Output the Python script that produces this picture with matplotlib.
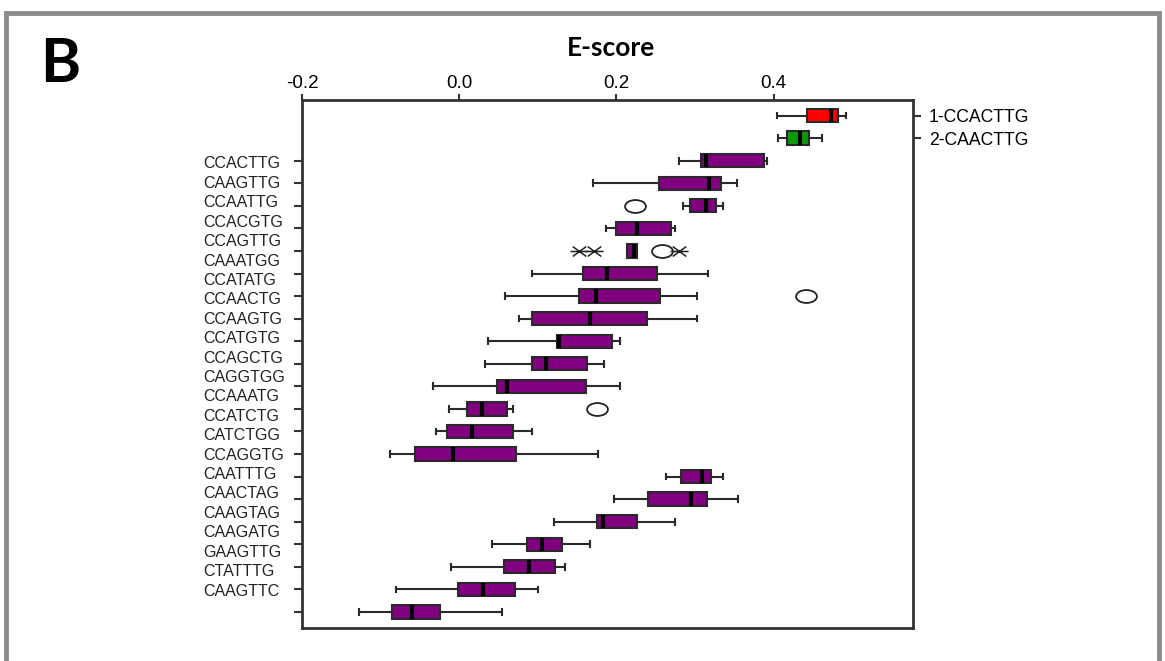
import matplotlib.pyplot as plt
import numpy as np
from matplotlib.path import Path
from matplotlib.transforms import Affine2D
from matplotlib.patches import Rectangle

# right-hand labels (first two boxes) and left-hand labels
top_names = ['1-CCACTTG', '2-CAACTTG']
left_names = ['CCACTTG', 'CAAGTTG', 'CCAATTG', 'CCACGTG', 'CCAGTTG', 'CAAATGG',
              'CCATATG', 'CCAACTG', 'CCAAGTG', 'CCATGTG', 'CCAGCTG', 'CAGGTGG',
              'CCAAATG', 'CCATCTG', 'CATCTGG', 'CCAGGTG', 'CAATTTG', 'CAACTAG',
              'CAAGTAG', 'CAAGATG', 'GAAGTTG', 'CTATTTG', 'CAAGTTC']

# box statistics, top to bottom
whislo = [0.404, 0.405, 0.280, 0.170, 0.285, 0.187, 0.213, 0.092, 0.058, 0.076,
          0.037, 0.033, -0.033, -0.013, -0.030, -0.088, 0.263, 0.197, 0.120,
          0.042, -0.010, -0.081, -0.127]
q1 = [0.442, 0.417, 0.307, 0.254, 0.293, 0.199, 0.213, 0.158, 0.153, 0.092,
      0.124, 0.093, 0.048, 0.010, -0.016, -0.056, 0.282, 0.240, 0.175,
      0.086, 0.057, -0.002, -0.086]
med = [0.473, 0.433, 0.314, 0.318, 0.314, 0.226, 0.222, 0.188, 0.174, 0.166,
       0.127, 0.110, 0.061, 0.029, 0.016, -0.008, 0.309, 0.295, 0.183,
       0.105, 0.089, 0.030, -0.060]
q3 = [0.482, 0.445, 0.388, 0.333, 0.327, 0.269, 0.226, 0.251, 0.255, 0.239,
      0.195, 0.162, 0.161, 0.061, 0.069, 0.072, 0.320, 0.315, 0.226,
      0.131, 0.122, 0.071, -0.024]
whishi = [0.492, 0.461, 0.391, 0.354, 0.335, 0.274, 0.226, 0.316, 0.302, 0.303,
          0.205, 0.184, 0.204, 0.069, 0.093, 0.177, 0.335, 0.355, 0.274,
          0.167, 0.135, 0.100, 0.054]
circle_out = {4: [0.224], 6: [0.258], 8: [0.441], 13: [0.175]}
star_row = 6
star_out = [0.153, 0.172, 0.280]

colors = ['#ff0000', '#0a9a0a'] + ['#800080'] * 21
positions = np.arange(1, len(med) + 1)

stats = []
for i in range(len(med)):
    stats.append(dict(whislo=whislo[i], q1=q1[i], med=med[i], q3=q3[i],
                      whishi=whishi[i], fliers=circle_out.get(i, [])))

ellipse = Path.unit_circle().transformed(Affine2D().scale(1.0, 0.62))
# flattened asterisk: horizontal bar plus two shallow diagonals
star = Path([(-1, 0), (1, 0), (-0.75, -0.55), (0.75, 0.55),
             (-0.75, 0.55), (0.75, -0.55)],
            [Path.MOVETO, Path.LINETO] * 3)

fig = plt.figure(figsize=(11.65, 6.61), dpi=100)
ax = fig.add_axes([0.2592, 0.050, 0.5248, 0.7987])

bp = ax.bxp(stats, positions=positions, orientation='horizontal', widths=0.59,
            capwidths=0.25, patch_artist=True,
            boxprops=dict(edgecolor='#2a2a2a', linewidth=1.5),
            whiskerprops=dict(color='#2a2a2a', linewidth=1.5),
            capprops=dict(color='#2a2a2a', linewidth=1.5),
            medianprops=dict(color='black', linewidth=3),
            flierprops=dict(marker=ellipse, markerfacecolor='none',
                            markeredgecolor='#222222', markersize=15,
                            markeredgewidth=1.3))
for patch, c in zip(bp['boxes'], colors):
    patch.set_facecolor(c)

ax.plot(star_out, [positions[star_row]] * len(star_out), linestyle='none',
        marker=star, markersize=13, color='#222222', markeredgewidth=1.1,
        fillstyle='none')

ax.set_xlim(-0.2, 0.5777)
ax.set_ylim(23.71, 0.31)

ax.xaxis.tick_top()
ax.set_xticks([-0.2, 0.0, 0.2, 0.4], ['-0.2', '0.0', '0.2', '0.4'])
ax.tick_params(axis='x', labelsize=13.5, length=4, width=1.5, color='#333333',
               pad=2, labelfontfamily='Liberation Sans')
ax.set_yticks(positions[2:], [''] * 21)
ax.tick_params(axis='y', length=6, width=1.5, color='#333333')
for s in ax.spines.values():
    s.set_linewidth(2)
    s.set_color('#333333')

ax2 = ax.twinx()
ax2.set_ylim(ax.get_ylim())
ax2.set_yticks(positions[:2], top_names)
ax2.tick_params(axis='y', length=6, width=1.5, color='#333333', pad=5,
                labelsize=12.7, labelfontfamily='Liberation Sans')
for s in ax2.spines.values():
    s.set_visible(False)

# left labels sit on their own even spacing (as in the figure)
label_y = np.linspace(164, 591, len(left_names))
for name, yp in zip(left_names, label_y):
    fig.text(203 / 1165, 1 - yp / 661, name, ha='left', va='center',
             fontsize=11.5, family='Liberation Sans', color='#222222')

fig.text(611 / 1165, 1 - 48 / 661, 'E-score', ha='center', va='center',
         fontsize=19, fontweight='bold', family='Lato')
fig.text(40 / 1165, 1 - 64 / 661, 'B', ha='left', va='center',
         fontsize=44, fontweight='bold', family='Lato')

fig.patches.append(Rectangle((6 / 1165, -0.1), 1153 / 1165, 1.1 - 13 / 661,
                             transform=fig.transFigure, fill=False,
                             edgecolor='#8c8c8c', linewidth=3.5))

fig.savefig('out.png', dpi=100)
